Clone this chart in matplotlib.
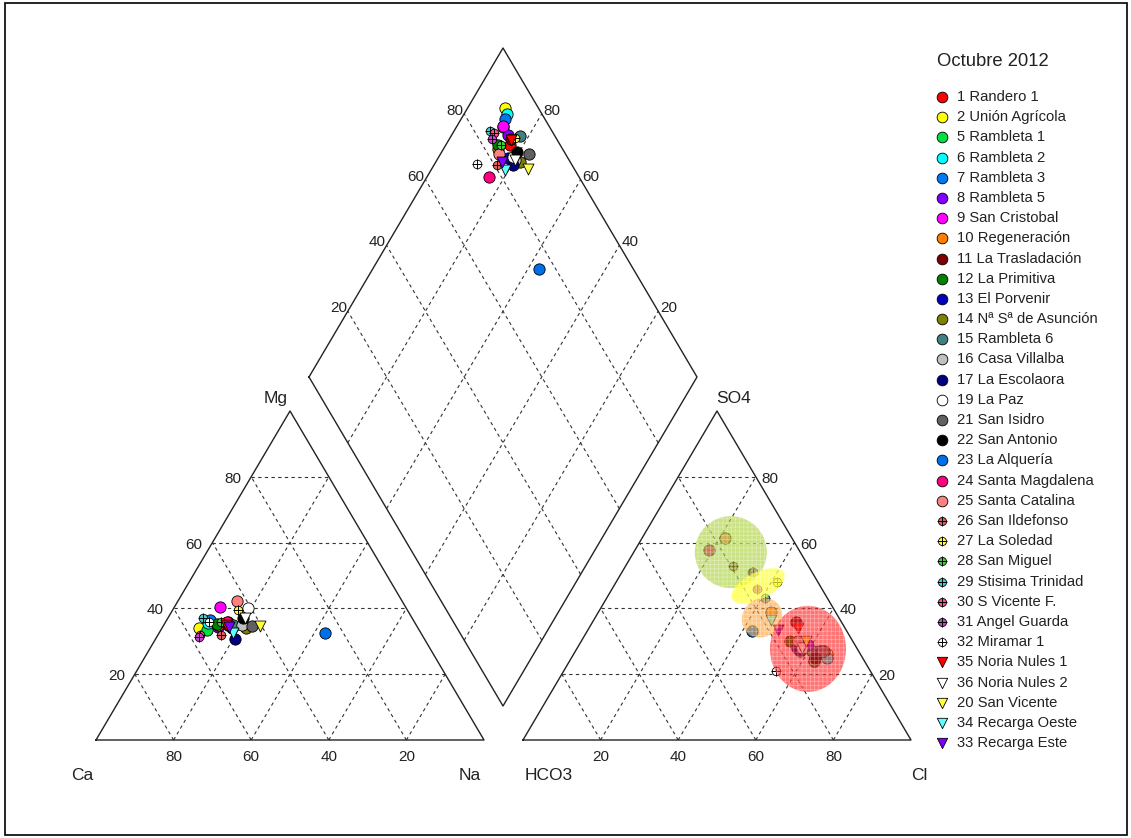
import matplotlib
matplotlib.use('Agg')
import matplotlib.pyplot as plt
from matplotlib.patches import Ellipse, Rectangle

plt.rcParams['font.family'] = ['Liberation Sans', 'DejaVu Sans']
plt.rcParams['hatch.linewidth'] = 0.5

# ---------------- data ----------------
title = "Octubre 2012"
names = ["1 Randero 1", "2 Unión Agrícola", "5 Rambleta 1", "6 Rambleta 2", "7 Rambleta 3",
         "8 Rambleta 5", "9 San Cristobal", "10 Regeneración", "11 La Trasladación",
         "12 La Primitiva", "13 El Porvenir", "14 Nª Sª de Asunción", "15 Rambleta 6",
         "16 Casa Villalba", "17 La Escolaora", "19 La Paz", "21 San Isidro", "22 San Antonio",
         "23 La Alquería", "24 Santa Magdalena", "25 Santa Catalina", "26 San Ildefonso",
         "27 La Soledad", "28 San Miguel", "29 Stisima Trinidad", "30 S Vicente F.",
         "31 Angel Guarda", "32 Miramar 1", "35 Noria Nules 1", "36 Noria Nules 2",
         "20 San Vicente", "34 Recarga Oeste", "33 Recarga Este"]
colors = ["#FF0000", "#FFFF00", "#00E040", "#00FFFF", "#0078F0",
          "#8000FF", "#FF00FF", "#FF8000", "#800000",
          "#008000", "#0000C0", "#808000", "#408080",
          "#C0C0C0", "#000080", "#FFFFFF", "#606060", "#000000",
          "#0070E8", "#FF0080", "#FF8080", "#E06060",
          "#FFFF40", "#40D040", "#40D0D0", "#FF5090",
          "#D040D0", "#FFFFFF", "#FF0000", "#FFFFFF",
          "#FFFF40", "#60FFFF", "#8000FF"]
kinds = ["o"] * 21 + ["x"] * 7 + ["v"] * 5

# cations (% meq)
ca = [48.4, 56.4, 54.8, 53.5, 52.3, 51.4, 47.8, 51.0, 48.0, 51.1, 48.0, 44.3, 47.2,
      45.0, 48.9, 40.8, 42.6, 43.6, 24.8, 48.3, 42.5, 51.9, 43.8, 49.7, 53.9, 57.3,
      57.9, 53.0, 49.0, 43.0, 40.6, 48.6, 48.7]
mg = [35.0, 34.0, 33.3, 35.5, 36.4, 34.2, 40.3, 35.0, 36.0, 35.4, 34.0, 33.9, 35.0,
      35.0, 30.6, 40.0, 34.5, 37.0, 32.4, 35.8, 42.4, 31.8, 39.4, 36.0, 37.0, 32.0,
      31.2, 36.0, 35.0, 37.0, 34.5, 32.4, 34.2]
na = [16.6, 9.6, 11.9, 11.0, 11.3, 14.4, 11.9, 14.0, 16.0, 13.5, 18.0, 21.8, 17.8,
      20.0, 20.5, 19.2, 22.9, 19.4, 42.8, 15.9, 15.1, 16.3, 16.8, 14.3, 9.1, 10.7,
      10.9, 11.0, 16.0, 20.0, 24.9, 19.0, 17.1]
# anions (% meq)
hco3 = [13.0, 8.6, 12.0, 9.1, 10.3, 12.0, 11.9, 16.7, 11.7, 16.1, 15.5, 13.0, 9.0,
        14.0, 15.2, 14.0, 9.4, 12.2, 24.5, 23.3, 17.2, 19.4, 10.6, 15.3, 16.0, 15.1,
        16.7, 24.4, 12.0, 14.0, 12.0, 18.0, 17.6]
so4 = [24.0, 26.0, 27.0, 25.0, 27.0, 29.0, 25.5, 38.8, 35.8, 30.0, 28.0, 24.0, 27.0,
       30.0, 27.0, 28.0, 27.0, 25.0, 33.0, 57.6, 61.5, 53.0, 47.9, 51.2, 43.3, 51.2,
       46.0, 20.9, 34.0, 28.0, 30.0, 36.4, 33.3]
cl = [63.0, 65.4, 61.0, 65.9, 62.7, 59.0, 62.6, 44.5, 52.5, 53.9, 56.5, 63.0, 64.0,
      56.0, 57.8, 58.0, 63.6, 62.8, 42.5, 19.1, 21.3, 27.6, 41.5, 33.5, 40.7, 33.7,
      37.3, 54.7, 54.0, 58.0, 58.0, 45.6, 49.1]

# highlighted groups in the anion triangle (centre composition HCO3, SO4, Cl)
group_hco3 = [17.9, 16.0, 19.8, 12.7]
group_so4 = [57.1, 46.8, 37.2, 27.7]
group_cl = [25.0, 37.2, 43.0, 59.6]
group_colors = ["#A8D030", "#FFFF30", "#FFA030", "#FF2020"]
group_alpha = [0.6, 0.7, 0.6, 0.62]
group_w = [72, 58, 42, 76]
group_h = [72, 27, 38, 86]
group_ang = [0, -27, -40, 0]

ticks = [20, 40, 60, 80]

# ---------------- geometry (pixels) ----------------
W, H = 388.0, 329.0
CX0, AX0, YB = 96.0, 523.0, 740.0
DX, DY, DHW, DHH = 503.0, 706.0, 194.0, 329.0


def cat_xy(c, m, n):
    return CX0 + W * (n + m / 2.0) / 100.0, YB - H * m / 100.0


def an_xy(h, s, c):
    return AX0 + W * (c + s / 2.0) / 100.0, YB - H * s / 100.0


def dia_xy(cm, sc):
    a, c = sc / 100.0, cm / 100.0
    return DX + DHW * (a - c), DY - DHH * (a + c)


fig = plt.figure(figsize=(11.31, 8.38), dpi=100)
ax = fig.add_axes([0, 0, 1, 1])
ax.set_xlim(0, 1131)
ax.set_ylim(838, 0)
ax.axis('off')

ax.add_patch(Rectangle((5, 3), 1122, 832, fill=False, ec='black', lw=1.2))

dash = dict(color='#333333', lw=0.8, ls=(0, (3, 3)), zorder=1)
solid = dict(color='#222222', lw=1.0, zorder=2)
tfs = 11
lfs = 12.5
tc = '#222222'


def line(p, q, **kw):
    ax.plot([p[0], q[0]], [p[1], q[1]], **kw)


# cation triangle
A, B, C = cat_xy(100, 0, 0), cat_xy(0, 0, 100), cat_xy(0, 100, 0)
for k in ticks:
    line(cat_xy(100 - k, k, 0), cat_xy(0, k, 100 - k), **dash)
    line(cat_xy(100 - k, 0, k), cat_xy(0, 100 - k, k), **dash)
    line(cat_xy(k, 0, 100 - k), cat_xy(k, 100 - k, 0), **dash)
ax.plot([A[0], B[0], C[0], A[0]], [A[1], B[1], C[1], A[1]], **solid)
for k in ticks:
    x, y = cat_xy(k, 0, 100 - k)
    ax.text(x, y + 17, str(k), ha='center', va='center', fontsize=tfs, color=tc)
    x, y = cat_xy(100 - k, k, 0)
    ax.text(x - 10, y + 2, str(k), ha='right', va='center', fontsize=tfs, color=tc)
ax.text(A[0] - 14, A[1] + 35, "Ca", ha='center', va='center', fontsize=lfs, color=tc)
ax.text(B[0] - 14, B[1] + 35, "Na", ha='center', va='center', fontsize=lfs, color=tc)
ax.text(C[0] - 14, C[1] - 13, "Mg", ha='center', va='center', fontsize=lfs, color=tc)

# anion triangle
A2, B2, C2 = an_xy(100, 0, 0), an_xy(0, 0, 100), an_xy(0, 100, 0)
for k in ticks:
    line(an_xy(100 - k, k, 0), an_xy(0, k, 100 - k), **dash)
    line(an_xy(100 - k, 0, k), an_xy(0, 100 - k, k), **dash)
    line(an_xy(k, 0, 100 - k), an_xy(k, 100 - k, 0), **dash)
ax.plot([A2[0], B2[0], C2[0], A2[0]], [A2[1], B2[1], C2[1], A2[1]], **solid)
for k in ticks:
    x, y = an_xy(100 - k, 0, k)
    ax.text(x, y + 17, str(k), ha='center', va='center', fontsize=tfs, color=tc)
    x, y = an_xy(0, k, 100 - k)
    ax.text(x + 6, y + 2, str(k), ha='left', va='center', fontsize=tfs, color=tc)
ax.text(A2[0] + 26, A2[1] + 35, "HCO3", ha='center', va='center', fontsize=lfs, color=tc)
ax.text(B2[0] + 8, B2[1] + 35, "Cl", ha='center', va='center', fontsize=lfs, color=tc)
ax.text(C2[0] + 17, C2[1] - 13, "SO4", ha='center', va='center', fontsize=lfs, color=tc)

# diamond
for k in ticks:
    line(dia_xy(0, k), dia_xy(100, k), **dash)
    line(dia_xy(k, 0), dia_xy(k, 100), **dash)
P = [dia_xy(100, 0), dia_xy(100, 100), dia_xy(0, 100), dia_xy(0, 0), dia_xy(100, 0)]
ax.plot([p[0] for p in P], [p[1] for p in P], **solid)
for k in ticks:
    x, y = dia_xy(100, k)
    ax.text(x - 1, y - 3, str(k), ha='right', va='center', fontsize=tfs, color=tc)
    x, y = dia_xy(k, 100)
    ax.text(x + 2, y - 3, str(k), ha='left', va='center', fontsize=tfs, color=tc)


def mark(x, y, color, kind, z, scale=1.0):
    if kind == 'o':
        ax.scatter([x], [y], s=66 * scale, c=color, edgecolors='black', linewidths=0.6,
                   marker='o', zorder=z)
    elif kind == 'x':
        ax.scatter([x], [y], s=38 * scale, c=color, edgecolors='black', linewidths=0.6,
                   marker='o', zorder=z)
        ax.scatter([x], [y], s=48 * scale, c='black', linewidths=0.7, marker='+', zorder=z + 0.01)
    else:
        ax.scatter([x], [y], s=62 * scale, c=color, edgecolors='black', linewidths=0.6,
                   marker='v', zorder=z)


for i in range(len(names)):
    z = 5 + i * 0.05
    x, y = cat_xy(ca[i], mg[i], na[i])
    mark(x, y, colors[i], kinds[i], z)
    x, y = an_xy(hco3[i], so4[i], cl[i])
    mark(x, y, colors[i], kinds[i], z)
    x, y = dia_xy(ca[i] + mg[i], so4[i] + cl[i])
    mark(x, y, colors[i], kinds[i], z)

# group ellipses (drawn over the anion points, translucent)
for j in range(len(group_colors)):
    x, y = an_xy(group_hco3[j], group_so4[j], group_cl[j])
    ax.add_patch(Ellipse((x, y), group_w[j], group_h[j], angle=group_ang[j],
                         fc=group_colors[j], ec='none', alpha=group_alpha[j], zorder=20))
    ax.add_patch(Ellipse((x, y), group_w[j], group_h[j], angle=group_ang[j],
                         fill=False, ec=(1, 1, 1, 0.4), lw=0, hatch='++++', zorder=21))

# legend
ax.text(937, 62, title, ha='left', va='center', fontsize=13.3, color=tc)
for i, nm in enumerate(names):
    y = 97 + i * 20.19
    mark(942, y, colors[i], kinds[i], 30, scale=0.9)
    ax.text(957, y, nm, ha='left', va='center', fontsize=10.6, color=tc)

fig.savefig('out.png', dpi=100)
